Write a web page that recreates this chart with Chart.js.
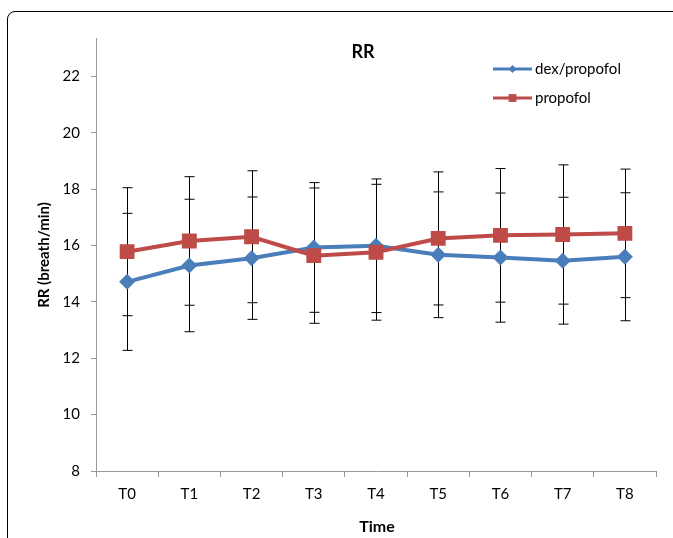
<!DOCTYPE html>
<html>
<head>
<meta charset="utf-8">
<script src="https://cdn.jsdelivr.net/npm/chart.js@4.4.0/dist/chart.umd.min.js"></script>
<style>
  html, body { margin: 0; padding: 0; background: #fff; overflow: hidden; }
  #marco { position: absolute; left: 7px; top: 11px; width: 720px; height: 600px;
           border: 1.5px solid #000; border-top-left-radius: 8px; }
  #lienzo { position: absolute; left: 0; top: 0; }
</style>
</head>
<body>
<div id="marco"></div>
<canvas id="lienzo" width="673" height="538"></canvas>
<script>
const tiempos = ['T0', 'T1', 'T2', 'T3', 'T4', 'T5', 'T6', 'T7', 'T8'];
const dexPropofol = [14.71, 15.29, 15.55, 15.93, 15.99, 15.67, 15.57, 15.46, 15.60];
const dexPropofolDE = [2.43, 2.35, 2.17, 2.30, 2.37, 2.23, 2.29, 2.25, 2.27];
const propofol = [15.78, 16.16, 16.31, 15.64, 15.76, 16.25, 16.36, 16.39, 16.43];
const propofolDE = [2.27, 2.28, 2.34, 2.40, 2.41, 2.36, 2.37, 2.47, 2.28];
const marcasY = [8, 10, 12, 14, 16, 18, 20, 22];

const azul = '#4A7EBB';
const rojo = '#BE4B48';
const fuente = 'Lato, "Liberation Sans", sans-serif';

const barrasError = {
    id: 'barrasError',
    beforeDatasetsDraw(chart) {
        const ctx = chart.ctx;
        const ejeX = chart.scales.x;
        const ejeY = chart.scales.y;
        const series = [[dexPropofol, dexPropofolDE], [propofol, propofolDE]];
        ctx.save();
        ctx.strokeStyle = '#000';
        ctx.lineWidth = 1;
        series.forEach(function (s) {
            for (var i in s[0]) {
                const x = Math.round(ejeX.getPixelForValue(Number(i))) + 0.5;
                const arriba = ejeY.getPixelForValue(s[0][i] + s[1][i]);
                const abajo = ejeY.getPixelForValue(s[0][i] - s[1][i]);
                ctx.beginPath();
                ctx.moveTo(x, arriba); ctx.lineTo(x, abajo);
                ctx.moveTo(x - 5, arriba); ctx.lineTo(x + 5, arriba);
                ctx.moveTo(x - 5, abajo); ctx.lineTo(x + 5, abajo);
                ctx.stroke();
            }
        });
        ctx.restore();
    }
};

const textos = {
    id: 'textos',
    afterDraw(chart) {
        const ctx = chart.ctx;
        ctx.save();
        ctx.fillStyle = '#000';
        ctx.textAlign = 'center';
        ctx.textBaseline = 'middle';
        ctx.font = 'bold 18px ' + fuente;
        ctx.fillText('RR', 363, 52);
        ctx.font = 'bold 16px ' + fuente;
        ctx.fillText('Time', 377, 527);
        ctx.font = 'bold 15px ' + fuente;
        ctx.translate(44, 255);
        ctx.rotate(-Math.PI / 2);
        ctx.fillText('RR (breath/min)', 0, 0);
        ctx.restore();

        // leyenda
        const items = [[azul, 'dex/propofol', 69, 'rectRot', 4], [rojo, 'propofol', 98, 'rect', 5.5]];
        ctx.save();
        items.forEach(function (it) {
            ctx.strokeStyle = it[0];
            ctx.fillStyle = it[0];
            ctx.lineWidth = 3;
            ctx.beginPath();
            ctx.moveTo(493, it[2]); ctx.lineTo(532, it[2]);
            ctx.stroke();
            Chart.helpers.drawPoint(ctx, { pointStyle: it[3], radius: it[4], borderWidth: 0 }, 512.5, it[2]);
            ctx.fillStyle = '#000';
            ctx.font = '15px ' + fuente;
            ctx.textAlign = 'left';
            ctx.textBaseline = 'middle';
            ctx.fillText(it[1], 535, it[2]);
        });
        ctx.restore();
    }
};

new Chart(document.getElementById('lienzo'), {
    type: 'line',
    data: {
        labels: tiempos,
        datasets: [
            {
                label: 'dex/propofol',
                data: dexPropofol,
                borderColor: azul,
                backgroundColor: azul,
                borderWidth: 4,
                pointStyle: 'rectRot',
                pointRadius: 8,
                pointBorderWidth: 0,
                order: 1,
            },
            {
                label: 'propofol',
                data: propofol,
                borderColor: rojo,
                backgroundColor: rojo,
                borderWidth: 4,
                pointStyle: 'rect',
                pointRadius: 10.5,
                pointBorderWidth: 0,
                order: 0,
            },
        ]
    },
    options: {
        responsive: false,
        animation: false,
        layout: { padding: { left: 0, top: 38, right: 17, bottom: 0 } },
        plugins: {
            legend: { display: false },
            title: { display: false },
            tooltip: { enabled: false },
        },
        scales: {
            x: {
                offset: true,
                grid: { offset: true, drawOnChartArea: false, color: '#999', tickLength: 6 },
                border: { color: '#999', width: 1 },
                ticks: { color: '#000', font: { family: fuente, size: 15 }, padding: 8 },
                afterFit: function (eje) { eje.height = 67; },
            },
            y: {
                min: 8,
                max: 23.36,
                afterBuildTicks: function (eje) {
                    eje.ticks = marcasY.map(function (v) { return { value: v }; });
                },
                grid: { drawOnChartArea: false, color: '#999', tickLength: 5 },
                border: { color: '#999', width: 1 },
                ticks: { color: '#000', font: { family: fuente, size: 15 }, padding: 11 },
                afterFit: function (eje) { eje.width = 96; },
            },
        },
    },
    plugins: [barrasError, textos],
});
</script>
</body>
</html>
